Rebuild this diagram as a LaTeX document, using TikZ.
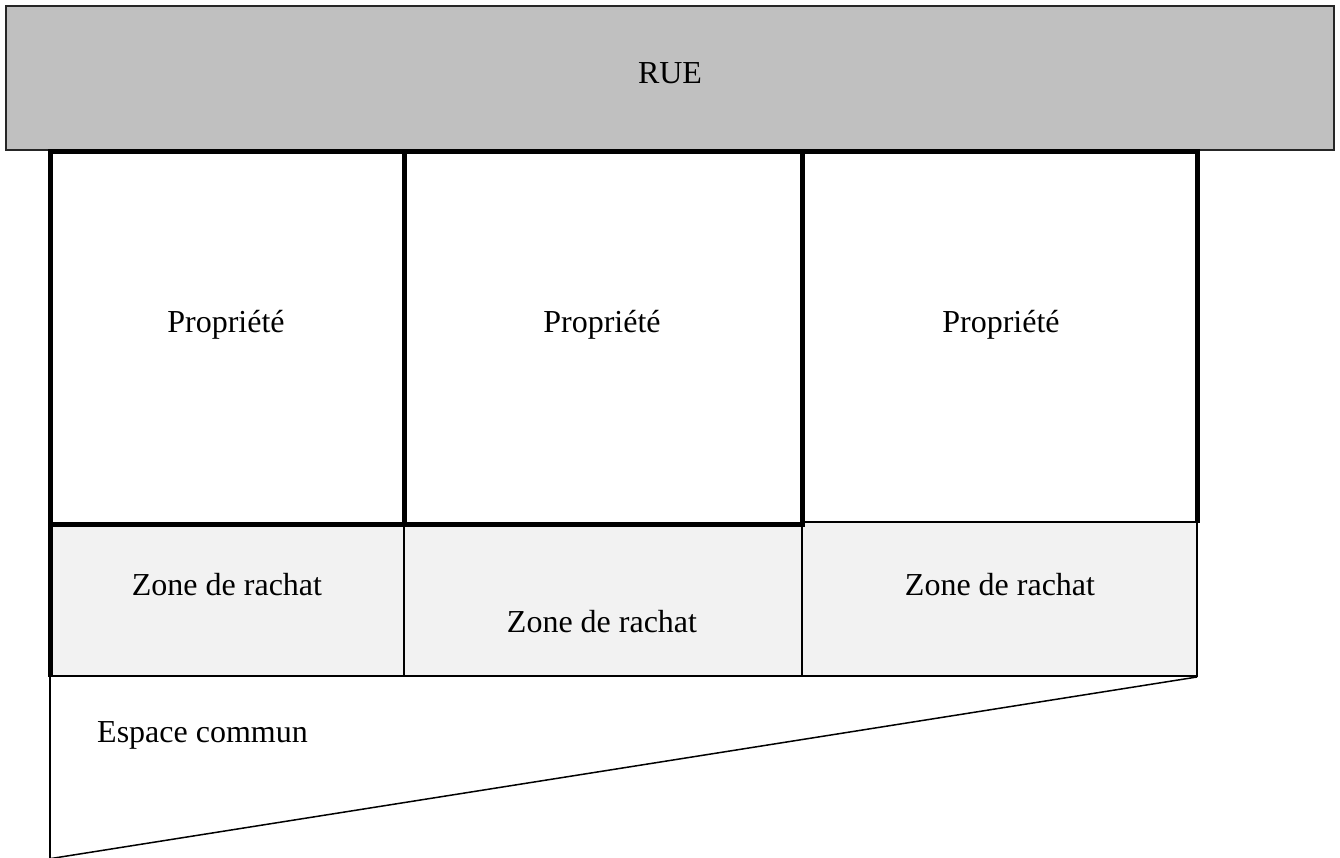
\documentclass[tikz,border=0pt]{standalone}
\usepackage{fontspec}
\setmainfont{Liberation Serif}
\begin{document}
\begin{tikzpicture}[x=1pt,y=-1pt,
  thickline/.style={line width=5pt,line cap=rect},
  thinline/.style={line width=1.5pt},
  lbl/.style={inner sep=0pt,anchor=base,font=\fontsize{32}{38}\selectfont}]
\definecolor{ruegray}{HTML}{C0C0C0}
\definecolor{zonegray}{HTML}{F2F2F2}
\useasboundingbox (0,0) rectangle (1340,858);
\clip (0,0) rectangle (1340,858);

% street band
\draw[fill=ruegray,line width=2pt,draw=black!85] (6,6) rectangle (1334,150);
\node[lbl] (rue) at (670,84) {RUE};

% buy-back strip
\fill[zonegray] (50,524) rectangle (802,676);
\fill[zonegray] (802,522) rectangle (1197,676);

% thin separators of the strip and the common area
\draw[thinline] (802,522) -- (1197,522) -- (1197,676) -- (50,676);
\draw[thinline] (404,524) -- (404,676);
\draw[thinline] (802,524) -- (802,676);
\draw[thinline] (50,676) -- (50,860);
\draw[thinline] (1197,677) -- (48,859);

% property outlines
\draw[thickline] (50,152) -- (1197,152);
\draw[thickline] (50,152) -- (50,674);
\draw[thickline] (404,152) -- (404,524);
\draw[thickline] (802,152) -- (802,524);
\draw[thickline] (1197,152) -- (1197,520);
\draw[thickline] (50,524) -- (802,524);

% labels
\node[lbl] (p1) at (226,332) {Propriété};
\node[lbl] (p2) at (602,332) {Propriété};
\node[lbl] (p3) at (1001,332) {Propriété};
\node[lbl] (z1) at (227,595) {Zone de rachat};
\node[lbl] (z2) at (602,632) {Zone de rachat};
\node[lbl] (z3) at (1000,595) {Zone de rachat};
\node[lbl,anchor=base west] (ec) at (97,742) {Espace commun};
\end{tikzpicture}
\end{document}
